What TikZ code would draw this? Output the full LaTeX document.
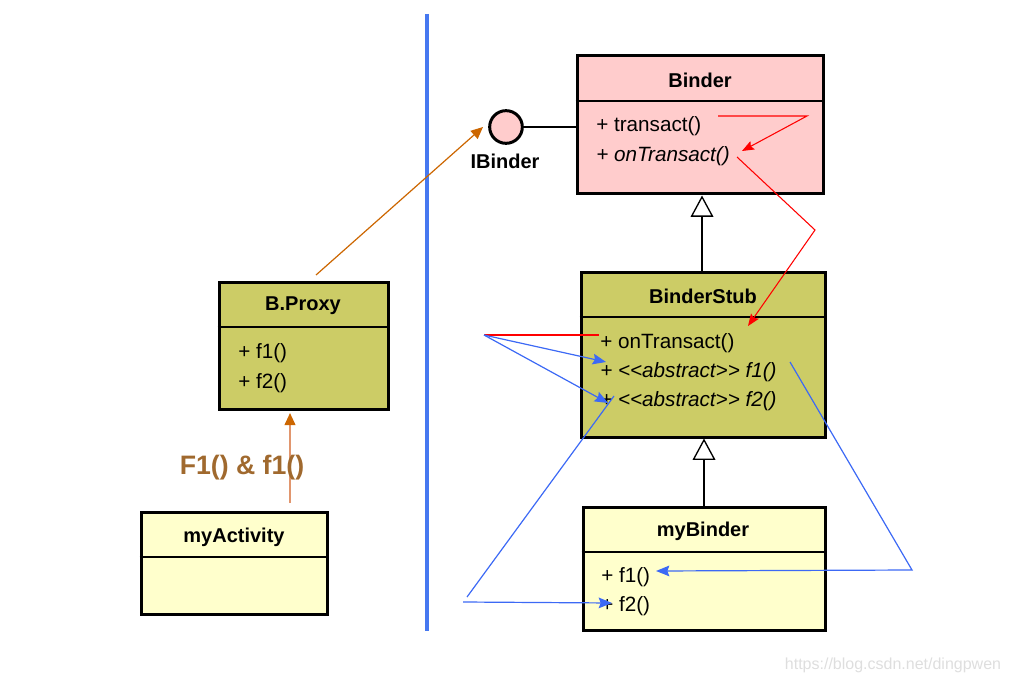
\documentclass[tikz,border=0pt]{standalone}
\usepackage{fontspec}
\setmainfont{Liberation Sans}
\usetikzlibrary{arrows.meta}
\definecolor{pinkfill}{RGB}{255,204,204}
\definecolor{olivefill}{RGB}{204,204,102}
\definecolor{paleyellow}{RGB}{255,255,204}
\definecolor{arrred}{RGB}{255,0,0}
\definecolor{arrblue}{RGB}{60,105,245}
\definecolor{sepblue}{RGB}{70,120,240}
\definecolor{arrorange}{RGB}{204,102,0}
\definecolor{lightorange}{RGB}{225,150,110}
\definecolor{labelbrown}{RGB}{160,105,46}
\definecolor{wmgray}{RGB}{222,222,222}
\tikzset{
  classbox/.style={draw=black, line width=2.25pt, rectangle, inner sep=0pt},
  divider/.style={draw=black, line width=0.9pt},
  ctitle/.style={font=\fontsize{15}{18}\selectfont\bfseries, inner sep=0pt},
  citem/.style={font=\fontsize{15.5}{18}\selectfont, inner sep=0pt, anchor=base west},
  citemit/.style={font=\fontsize{15.5}{18}\selectfont\itshape, inner sep=0pt, anchor=base west},
  genarrow/.style={draw=black, line width=1.1pt, -{Triangle[open, length=16pt, width=17pt, line width=1pt]}},
  redarrow/.style={draw=arrred, line width=0.8pt},
  bluearrow/.style={draw=arrblue, line width=0.9pt},
  redtip/.style={-{Stealth[length=9pt, width=7pt, inset=1.5pt]}},
  bluetip/.style={-{Stealth[length=10pt, width=8pt, inset=1.5pt]}},
}
\begin{document}
\begin{tikzpicture}[x=0.75pt, y=-0.75pt]
\useasboundingbox (0,0) rectangle (1009,684);

% separator
\draw[sepblue, line width=2.4pt] (427,14) coordinate (sepTop) -- (427,631) coordinate (sepBot);

% Binder
\node[classbox, fill=pinkfill, minimum width=184.5pt, minimum height=103.5pt] (binder) at (700,125) {};
\draw[divider] (binder.west |- 0,101) -- (binder.east |- 0,101);
\node[ctitle] (binderT) at (700,80) {Binder};
\node[citem] (bTr) at (596,132) {+ transact()};
\node[citemit] (bOn) at (596,162) {+ onTransact()};

% IBinder interface
\node[circle, draw=black, line width=2.25pt, fill=pinkfill, minimum size=24.5pt, inner sep=0pt] (ibinder) at (506,127) {};
\node[ctitle] (ibinderT) at (505,161) {IBinder};
\draw[black, line width=1.1pt] (ibinder.east) -- (binder.west |- ibinder.east);

% BinderStub
\node[classbox, fill=olivefill, minimum width=183pt, minimum height=123.75pt] (stub) at (703,354.5) {};
\draw[divider] (stub.west |- 0,317) -- (stub.east |- 0,317);
\node[ctitle] (stubT) at (703,296) {BinderStub};
\node[citem] (sOn) at (600,348) {+ onTransact()};
\node[citemit] (sF1) at (600,377) {+ {<}{<}abstract{>}{>} f1()};
\node[citemit] (sF2) at (600,406) {+ {<}{<}abstract{>}{>} f2()};

% myBinder
\node[classbox, fill=paleyellow, minimum width=181.5pt, minimum height=92.25pt] (mybinder) at (704,568.5) {};
\draw[divider] (mybinder.west |- 0,552) -- (mybinder.east |- 0,552);
\node[ctitle] (mybinderT) at (703,531) {myBinder};
\node[citem] (mF1) at (601,582) {+ f1()};
\node[citem] (mF2) at (601,611) {+ f2()};

% B.Proxy
\node[classbox, fill=olivefill, minimum width=126.75pt, minimum height=95.25pt] (proxy) at (303.5,345.5) {};
\draw[divider] (proxy.west |- 0,327) -- (proxy.east |- 0,327);
\node[ctitle] (proxyT) at (303,306) {B.Proxy};
\node[citem] (pF1) at (238,358) {+ f1()};
\node[citem] (pF2) at (238,388) {+ f2()};

% myActivity
\node[classbox, fill=paleyellow, minimum width=139.5pt, minimum height=76.5pt] (activity) at (234,563) {};
\draw[divider] (activity.west |- 0,557) -- (activity.east |- 0,557);
\node[ctitle] (activityT) at (234,537) {myActivity};

% generalizations
\draw[genarrow] (stub.north -| 702,0) -- (binder.south -| 702,0);
\draw[genarrow] (mybinder.north -| 704,0) -- (stub.south -| 704,0);

% connector end points near the class members
\coordinate (pxStart) at (316,275);
\coordinate (ibTip) at (483,127);
\coordinate (actStart) at (290,503);
\coordinate (pxTip) at (290,413);
\coordinate (r1) at (718,116);
\coordinate (r2) at (807,116);
\coordinate (bOnTip) at (742,151);
\coordinate (bOnOut) at (737,157);
\coordinate (r4) at (815,230);
\coordinate (sOnTip) at (748,326);
\coordinate (b0) at (484,335);
\coordinate (sOnIn) at (599,335);
\coordinate (sF1Tip) at (606,362);
\coordinate (sF2Tip) at (608,403);
\coordinate (sF2Out) at (614,396);
\coordinate (b1) at (467,597);
\coordinate (b2) at (463,602);
\coordinate (mF2Tip) at (612,603);
\coordinate (sF1Out) at (790,362);
\coordinate (b3) at (912,570);
\coordinate (mF1Tip) at (656,571);

% orange arrows
\draw[arrorange, line width=0.9pt, -{Triangle[length=9pt, width=8pt]}] (pxStart) -- (ibTip);
\draw[lightorange, line width=1.3pt, -{Triangle[length=9pt, width=8pt, color=arrorange]}] (actStart) -- (pxTip);
\node[font=\fontsize{20}{24}\selectfont\bfseries, text=labelbrown, inner sep=0pt] (callLabel) at (242,468) {F1() \& f1()};

% red connectors
\draw[redarrow, redtip] (r1) -- (r2) -- (bOnTip);
\draw[redarrow, redtip] (bOnOut) -- (r4) -- (sOnTip);
\draw[redarrow] (b0) -- (sOnIn);

% blue connectors
\draw[bluearrow, bluetip] (b0) -- (sF1Tip);
\draw[bluearrow, bluetip] (b0) -- (sF2Tip);
\draw[bluearrow] (sF2Out) -- (b1);
\draw[bluearrow, bluetip] (b2) -- (mF2Tip);
\draw[bluearrow, bluetip] (sF1Out) -- (b3) -- (mF1Tip);

% watermark
\node[font=\fontsize{12}{14}\selectfont, text=wmgray, inner sep=0pt] (wm) at (893,665) {https://blog.csdn.net/dingpwen};
\end{tikzpicture}
\end{document}
